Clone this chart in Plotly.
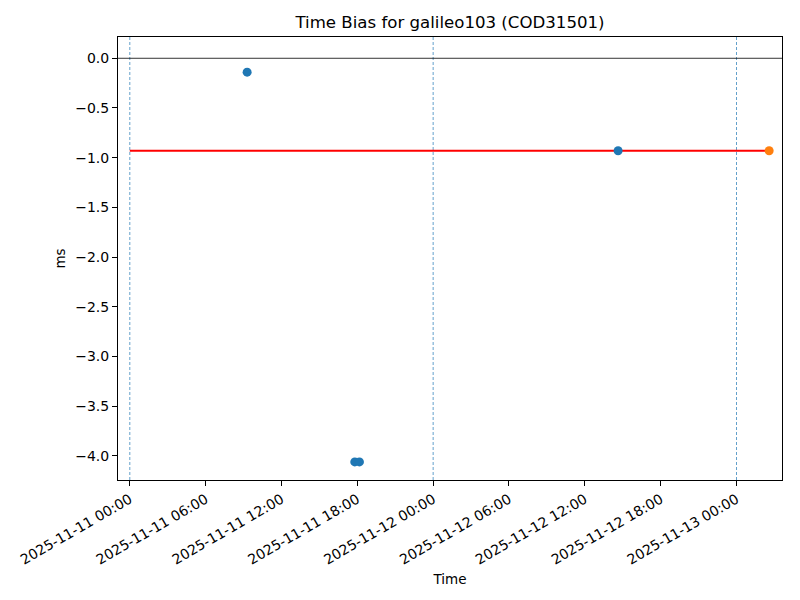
import plotly.graph_objects as go

# Data
blue_times = ["2025-11-11 09:17", "2025-11-11 17:48", "2025-11-11 18:10", "2025-11-12 14:38"]
blue_values = [-0.14, -4.06, -4.06, -0.93]
orange_times = ["2025-11-13 02:35"]
orange_values = [-0.93]
mean_times = ["2025-11-11 00:00", "2025-11-13 02:35"]
mean_values = [-0.93, -0.93]
day_boundaries = ["2025-11-11 00:00", "2025-11-12 00:00", "2025-11-13 00:00"]
x_range = ["2025-11-10 23:04", "2025-11-13 03:36"]
y_range = [-4.242, 0.214]

FONT = "DejaVu Sans, Liberation Sans, sans-serif"

fig = go.Figure()
fig.add_trace(go.Scatter(x=mean_times, y=mean_values, mode="lines",
                         line=dict(color="red", width=2), showlegend=False))
fig.add_trace(go.Scatter(x=blue_times, y=blue_values, mode="markers",
                         marker=dict(color="#1f77b4", size=9), showlegend=False))
fig.add_trace(go.Scatter(x=orange_times, y=orange_values, mode="markers",
                         marker=dict(color="#ff7f0e", size=9), showlegend=False))

shapes = []
for d in day_boundaries:
    shapes.append(dict(type="line", xref="x", yref="paper", x0=d, x1=d, y0=0, y1=1,
                       line=dict(color="#1f77b4", width=0.7, dash="3px,2px"), layer="below"))
shapes.append(dict(type="line", xref="paper", yref="y", x0=0, x1=1, y0=0, y1=0,
                   line=dict(color="black", width=0.8), layer="below"))

fig.update_layout(
    width=800, height=600,
    margin=dict(l=118, r=18, t=37, b=120),
    paper_bgcolor="white", plot_bgcolor="white",
    font=dict(family=FONT, size=13, color="black"),
    title=dict(text="Time Bias for galileo103 (COD31501)", x=0.5, xref="paper",
               xanchor="center", y=1 - 22/600, yanchor="middle", font=dict(size=16.6)),
    shapes=shapes,
    xaxis=dict(range=x_range, type="date", tickformat="%Y-%m-%d %H:%M",
               dtick=21600000, tick0="2025-11-11 00:00", tickangle=-30,
               tickfont=dict(size=14),
               showgrid=False, zeroline=False, showline=True, linecolor="black",
               linewidth=1, mirror=True, ticks="outside", ticklen=5, tickcolor="black",
               title=dict(text="Time", standoff=8, font=dict(size=13.5))),
    yaxis=dict(range=y_range, tickformat=".1f", dtick=0.5, tick0=0,
               tickfont=dict(size=14),
               showgrid=False, zeroline=False, showline=True, linecolor="black",
               linewidth=1, mirror=True, ticks="outside", ticklen=5, tickcolor="black",
               title=dict(text="ms", standoff=6, font=dict(size=13.5))),
)

fig.write_html("out.html", config={"displayModeBar": False},
               post_script="document.body.style.margin='0';document.body.style.padding='0';")
